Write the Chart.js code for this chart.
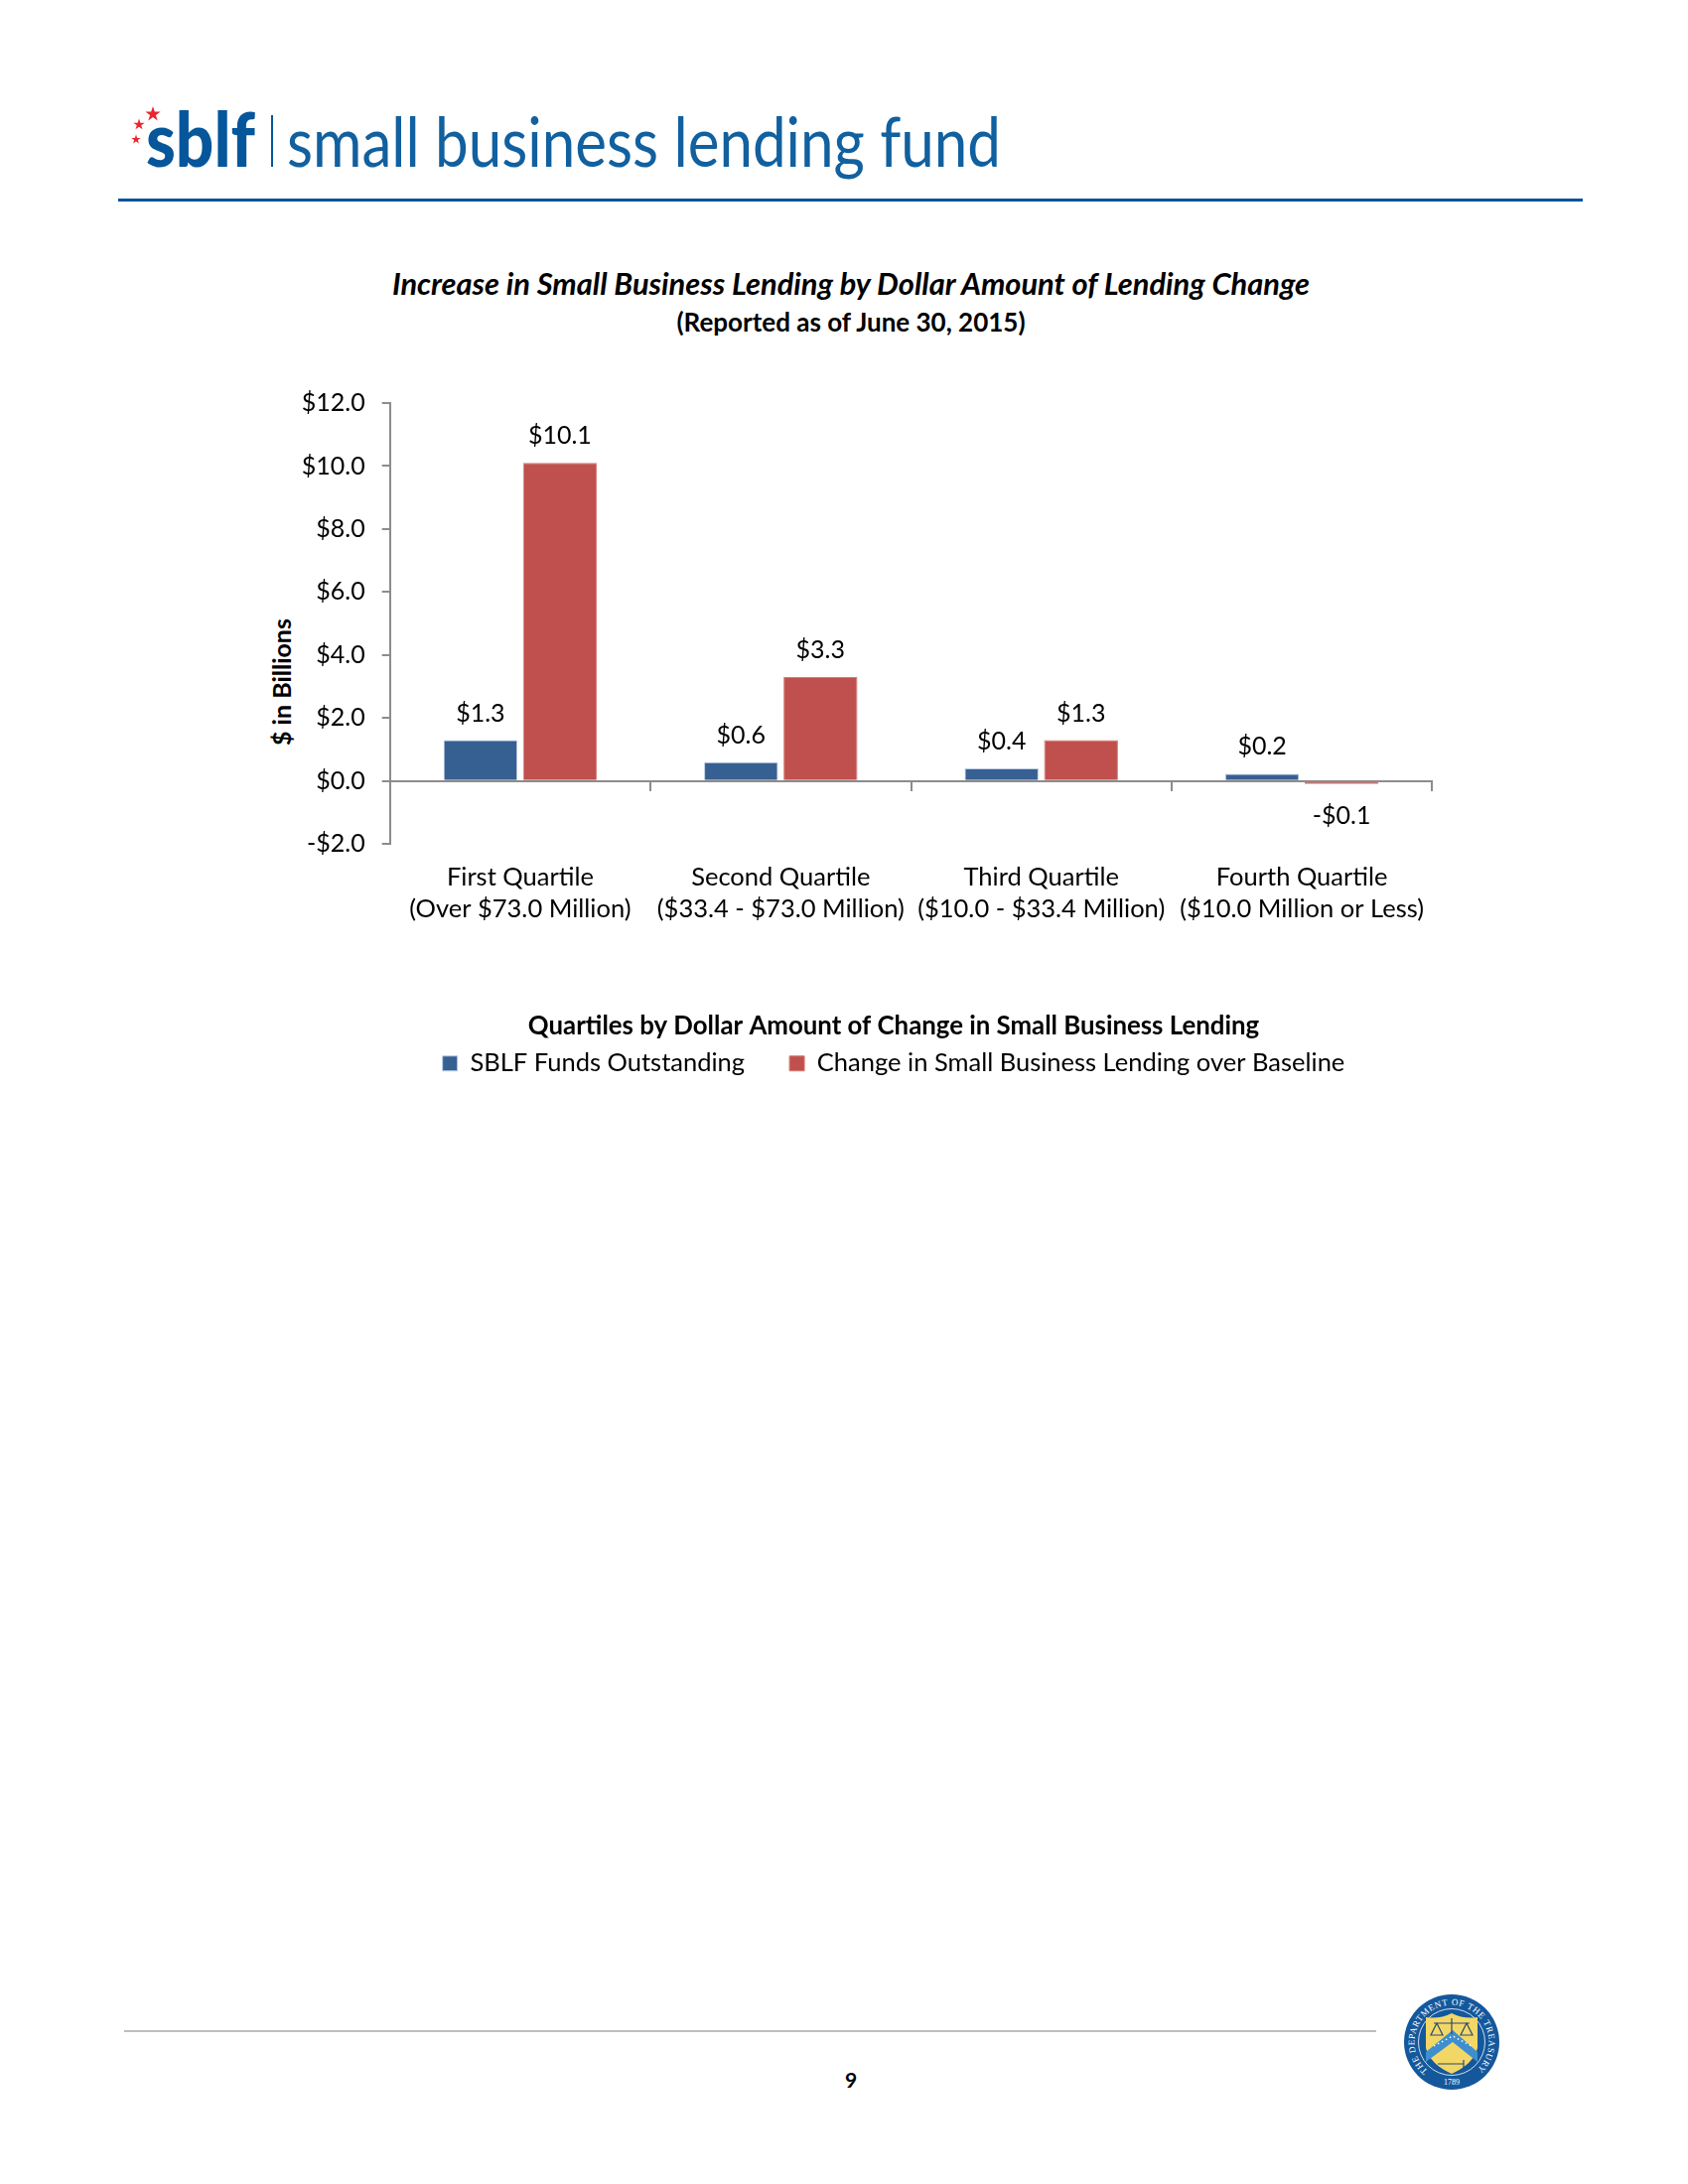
<!DOCTYPE html>
<html>
<head>
<meta charset="utf-8">
<title>Increase in Small Business Lending</title>
<script src="https://cdn.jsdelivr.net/npm/chart.js@4"></script>
<style>
  html, body { margin: 0; padding: 0; background: #fff; }
  #page { position: relative; width: 1700px; height: 2200px; overflow: hidden; font-family: Lato, sans-serif; color: #000; }
  #page > * { position: absolute; }
  #logo { left: 0; top: 0; }
  #top-rule { left: 119px; top: 200px; width: 1475px; height: 3px; background: #00539b; }
  .heading { left: 0; width: 1714px; text-align: center; font-weight: 700; white-space: nowrap; }
  #title { top: 268px; font-size: 30.8px; line-height: 36px; font-style: italic; }
  #subtitle { top: 309px; font-size: 26px; line-height: 30px; }
  #y-title { left: 283px; top: 687px; font-size: 25px; font-weight: 700; white-space: nowrap; transform: translate(-50%, -50%) rotate(-90deg); }
  #chart-wrap { left: 100px; top: 374px; width: 1600px; height: 720px; }
  #bottom-rule { left: 125px; top: 2045px; width: 1261px; height: 2px; background: #bdbdbd; }
  #page-no { left: 827px; width: 60px; top: 2082px; text-align: center; font-size: 21px; font-weight: 700; }
  #seal { left: 1412px; top: 2007px; }
</style>
</head>
<body>
<div id="page">
  <svg id="logo" width="1100" height="195" xmlns="http://www.w3.org/2000/svg">
    <defs><polygon id="star" points="0,-1 .224,-.309 .951,-.309 .363,.118 .588,.809 0,.382 -.588,.809 -.363,.118 -.951,-.309 -.224,-.309"/></defs>
    <g fill="#e8262d">
      <use href="#star" transform="translate(154,115) scale(8)"/>
      <use href="#star" transform="translate(140,125.5) scale(6)"/>
      <use href="#star" transform="translate(137,140.5) scale(5)"/>
    </g>
    <text x="147" y="168" font-family="Lato" font-weight="900" font-size="76" fill="#05569b" textLength="110" lengthAdjust="spacingAndGlyphs">sblf</text>
    <rect x="273" y="116" width="2" height="52" fill="#05569b"/>
    <text x="289" y="168" font-family="Lato" font-weight="400" font-size="69" fill="#11609f" textLength="719" lengthAdjust="spacingAndGlyphs">small business lending fund</text>
  </svg>
  <div id="top-rule"></div>
  <div id="title" class="heading">Increase in Small Business Lending by Dollar Amount of Lending Change</div>
  <div id="subtitle" class="heading">(Reported as of June 30, 2015)</div>
  <div id="y-title">$ in Billions</div>
  <div id="chart-wrap"><canvas id="chart" width="1600" height="720"></canvas></div>
  <div id="bottom-rule"></div>
  <div id="page-no">9</div>
  <svg id="seal" width="100" height="100" viewBox="0 0 100 100" xmlns="http://www.w3.org/2000/svg">
    <defs><path id="ring" d="M26,79 A37.5,37.5 0 1 1 74,79"/></defs>
    <circle cx="50" cy="50" r="48" fill="#14589c"/>
    <circle cx="50" cy="50" r="33.5" fill="none" stroke="#fff" stroke-width="0.8"/>
    <text font-family="Liberation Serif" font-size="9" fill="#fff"><textPath href="#ring" textLength="181" lengthAdjust="spacing">THE DEPARTMENT OF THE TREASURY</textPath></text>
    <text x="50" y="93" text-anchor="middle" font-family="Liberation Serif" font-size="8" fill="#fff">1789</text>
    <path d="M24,25 Q38,27 50,21 Q62,27 76,25 L76,56 Q72,72 50,82 Q28,72 24,56 Z" fill="#f3d766"/>
    <path d="M24,60 L51,38 L76,60 L76,70 L51,50 L24,70 Z" fill="#3f8fcf"/>
    <path d="M32,54 L51,44 L70,54" fill="none" stroke="#fff" stroke-width="1.4" stroke-dasharray="1.5 3"/>
    <path d="M32,31 H68 M50,26 V42 M35,31 L29,43 H41 Z M65,31 L59,43 H71 Z M36,72 H62 M62,68 V76" stroke="#2a4a6a" stroke-width="1.2" fill="none"/>
  </svg>
</div>

<script>
const quartileNames = ['First Quartile', 'Second Quartile', 'Third Quartile', 'Fourth Quartile'];
const quartileRanges = ['(Over $73.0 Million)', '($33.4 - $73.0 Million)', '($10.0 - $33.4 Million)', '($10.0 Million or Less)'];
const fundsOutstanding = [1.3, 0.6, 0.4, 0.23];
const lendingChange = [10.1, 3.3, 1.3, -0.1];

const AXIS_COLOR = '#8c8c8c';
const TEXT_FONT = 'Lato';

function money(value) {
    const text = '$' + Math.abs(value).toFixed(1);
    return value < 0 ? '-' + text : text;
}

// Data labels, there is no datalabels plugin here
const barLabels = {
    id: 'barLabels',
    afterDatasetsDraw(chart) {
        const ctx = chart.ctx;
        ctx.save();
        ctx.font = '25px ' + TEXT_FONT;
        ctx.fillStyle = '#000';
        ctx.textAlign = 'center';
        ctx.textBaseline = 'middle';
        chart.data.datasets.forEach((dataset, i) => {
            chart.getDatasetMeta(i).data.forEach((bar, j) => {
                const value = dataset.data[j];
                ctx.fillText(money(value), bar.x, value < 0 ? bar.y + 32 : bar.y - 27);
            });
        });
        ctx.restore();
    }
};

new Chart(document.getElementById('chart'), {
    type: 'bar',
    plugins: [barLabels],
    data: {
        labels: quartileNames.map((name, i) => [name, quartileRanges[i]]),
        datasets: [
            {
                label: 'SBLF Funds Outstanding',
                data: fundsOutstanding,
                backgroundColor: '#376092',
                borderColor: '#b9cde5',
                borderWidth: 1
            },
            {
                label: 'Change in Small Business Lending over Baseline',
                data: lendingChange,
                backgroundColor: '#c0504d',
                borderColor: '#d67a77',
                borderWidth: 1
            }
        ]
    },
    options: {
        responsive: false,
        animation: false,
        datasets: { bar: { categoryPercentage: 0.61, barPercentage: 0.93 } },
        scales: {
            x: {
                offset: true,
                border: { display: false },
                grid: { display: false, drawTicks: false },
                ticks: {
                    autoSkip: false,
                    maxRotation: 0,
                    padding: 17.5,
                    color: '#000',
                    font: { family: TEXT_FONT, size: 25.5, lineHeight: 1.27 }
                },
                afterFit: (scale) => { scale.height = 170.4; }
            },
            // category axis line that crosses at zero, labels stay low on x
            zero: {
                type: 'category',
                axis: 'x',
                position: { y: 0 },
                offset: true,
                labels: quartileNames,
                border: { color: AXIS_COLOR, width: 2, z: 1 },
                grid: { drawOnChartArea: false, color: AXIS_COLOR, lineWidth: 2, tickLength: 9, offset: true },
                ticks: { display: false },
                afterFit: (scale) => { scale.height = 0; }
            },
            y: {
                min: -2,
                max: 12,
                border: { color: AXIS_COLOR, width: 2 },
                grid: { drawOnChartArea: false, color: AXIS_COLOR, lineWidth: 2, tickLength: 8 },
                ticks: {
                    stepSize: 2,
                    padding: 17,
                    color: '#000',
                    font: { family: TEXT_FONT, size: 25 },
                    callback: (value) => money(value)
                },
                afterFit: (scale) => { scale.width = 292.7; }
            },
            // empty right axis, holds the plot off the right edge so the legend centres on the canvas
            spacer: {
                type: 'linear',
                axis: 'y',
                position: 'right',
                border: { display: false },
                grid: { display: false },
                ticks: { display: false },
                afterFit: (scale) => { scale.width = 257.7; }
            }
        },
        plugins: {
            title: { display: false },
            tooltip: { enabled: false },
            legend: {
                position: 'bottom',
                title: {
                    display: true,
                    text: 'Quartiles by Dollar Amount of Change in Small Business Lending',
                    color: '#000',
                    padding: { top: 0, bottom: -38 },
                    font: { family: TEXT_FONT, size: 25.8, weight: 'bold' }
                },
                labels: {
                    boxWidth: 15,
                    boxHeight: 15,
                    padding: 45,
                    color: '#000',
                    font: { family: TEXT_FONT, size: 25.5 }
                }
            }
        }
    }
});
</script>
</body>
</html>
